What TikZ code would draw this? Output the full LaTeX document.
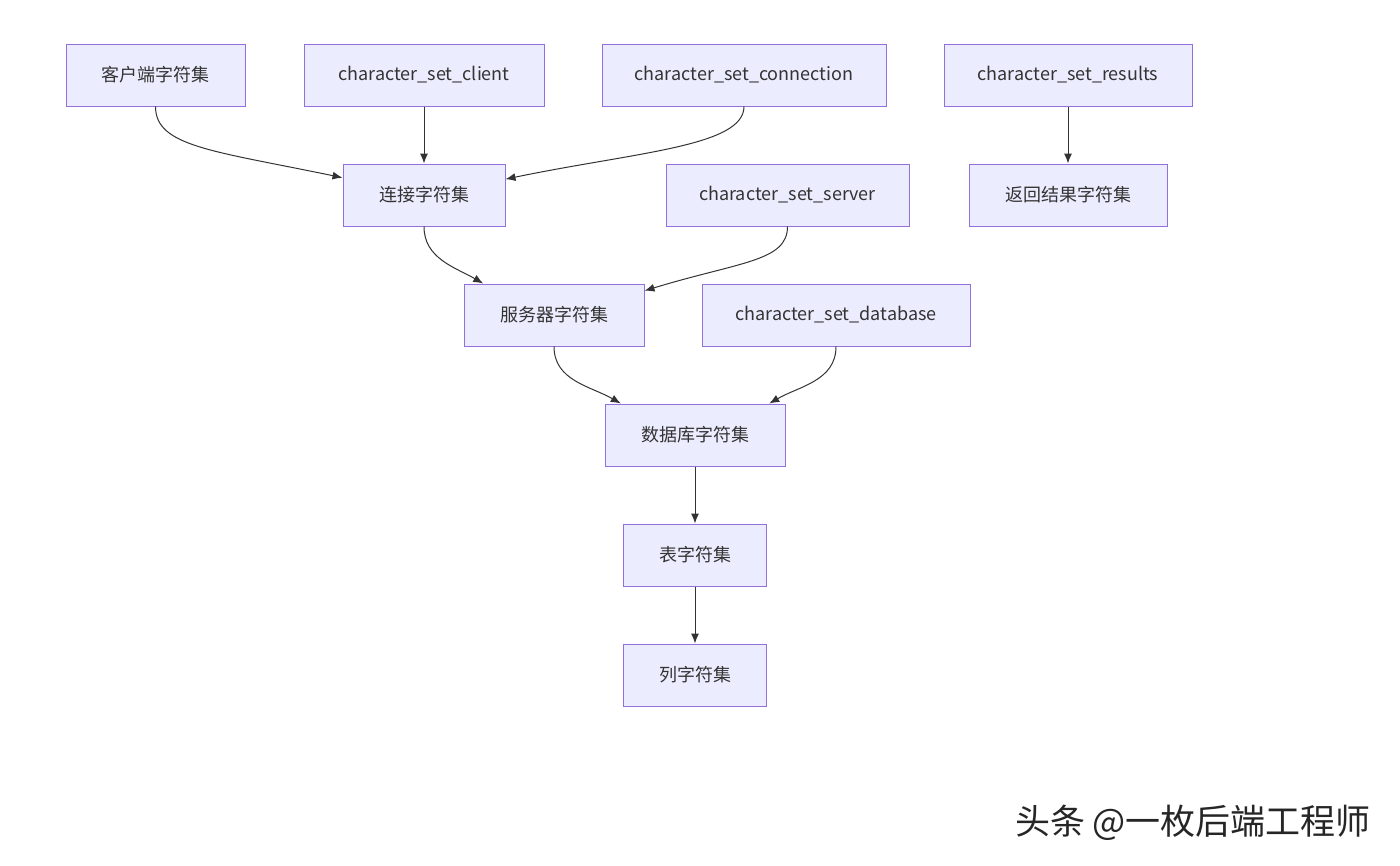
\documentclass[tikz,border=0pt]{standalone}
\usepackage{fontspec}
\usepackage{xcolor}
\usetikzlibrary{arrows.meta}
\setmainfont{Noto Sans CJK SC}
\definecolor{CECECFF}{HTML}{ECECFF}
\definecolor{C9370DB}{HTML}{9370DB}
\definecolor{C333333}{HTML}{333333}

\begin{document}
\begin{tikzpicture}[inner sep=0pt,
  box/.style={minimum height=62pt, fill=CECECFF, draw=C9370DB, line width=1.0pt, align=center, font=\fontsize{18}{21}\selectfont, text=C333333, shape=rectangle},
  link/.style={-{Latex[length=10pt,width=8pt]}, line width=1.0pt, draw=C333333}]
\useasboundingbox (0pt,0pt) rectangle (1400pt,-865pt);

\node (n0) [box, minimum width=179pt, at={(155.5pt,-75pt)}] {客户端字符集};
\node (n1) [box, minimum width=240pt, at={(424pt,-75pt)}] {character\_set\_client};
\node (n2) [box, minimum width=284pt, at={(744pt,-75pt)}] {character\_set\_connection};
\node (n3) [box, minimum width=248pt, at={(1068pt,-75pt)}] {character\_set\_results};
\node (n4) [box, minimum width=162pt, at={(424pt,-195pt)}] {连接字符集};
\node (n5) [box, minimum width=243pt, at={(787.5pt,-195pt)}] {character\_set\_server};
\node (n6) [box, minimum width=198pt, at={(1068pt,-195pt)}] {返回结果字符集};
\node (n7) [box, minimum width=180pt, at={(554pt,-315pt)}] {服务器字符集};
\node (n8) [box, minimum width=268pt, at={(836pt,-315pt)}] {character\_set\_database};
\node (n9) [box, minimum width=180pt, at={(695pt,-435pt)}] {数据库字符集};
\node (n10) [box, minimum width=143pt, at={(695pt,-555pt)}] {表字符集};
\node (n11) [box, minimum width=143pt, at={(695pt,-675pt)}] {列字符集};

\node (n12) [at={(1193pt,-823pt)}, font=\fontsize{35}{39}\selectfont, text=black!85] {头条 @一枚后端工程师};

\path [link] (n0.south) .. controls +(0pt,-40pt) and +(-130pt,27pt) .. (n4.168);
\path [link] (n1)--(n4);
\path [link] (n2.south) .. controls +(0pt,-40pt) and +(130pt,27pt) .. (n4.11);
\path [link] (n3)--(n6);
\path [link] (n4.south) to[out=-90,in=150] (n7.156);
\path [link] (n5.south) .. controls +(0pt,-35pt) and +(95pt,29pt) .. (n7.15);
\path [link] (n7.south) to[out=-90,in=150] (n9.157);
\path [link] (n8.south) to[out=-90,in=30] (n9.23);
\path [link] (n9)--(n10);
\path [link] (n10)--(n11);
\end{tikzpicture}
\end{document}
